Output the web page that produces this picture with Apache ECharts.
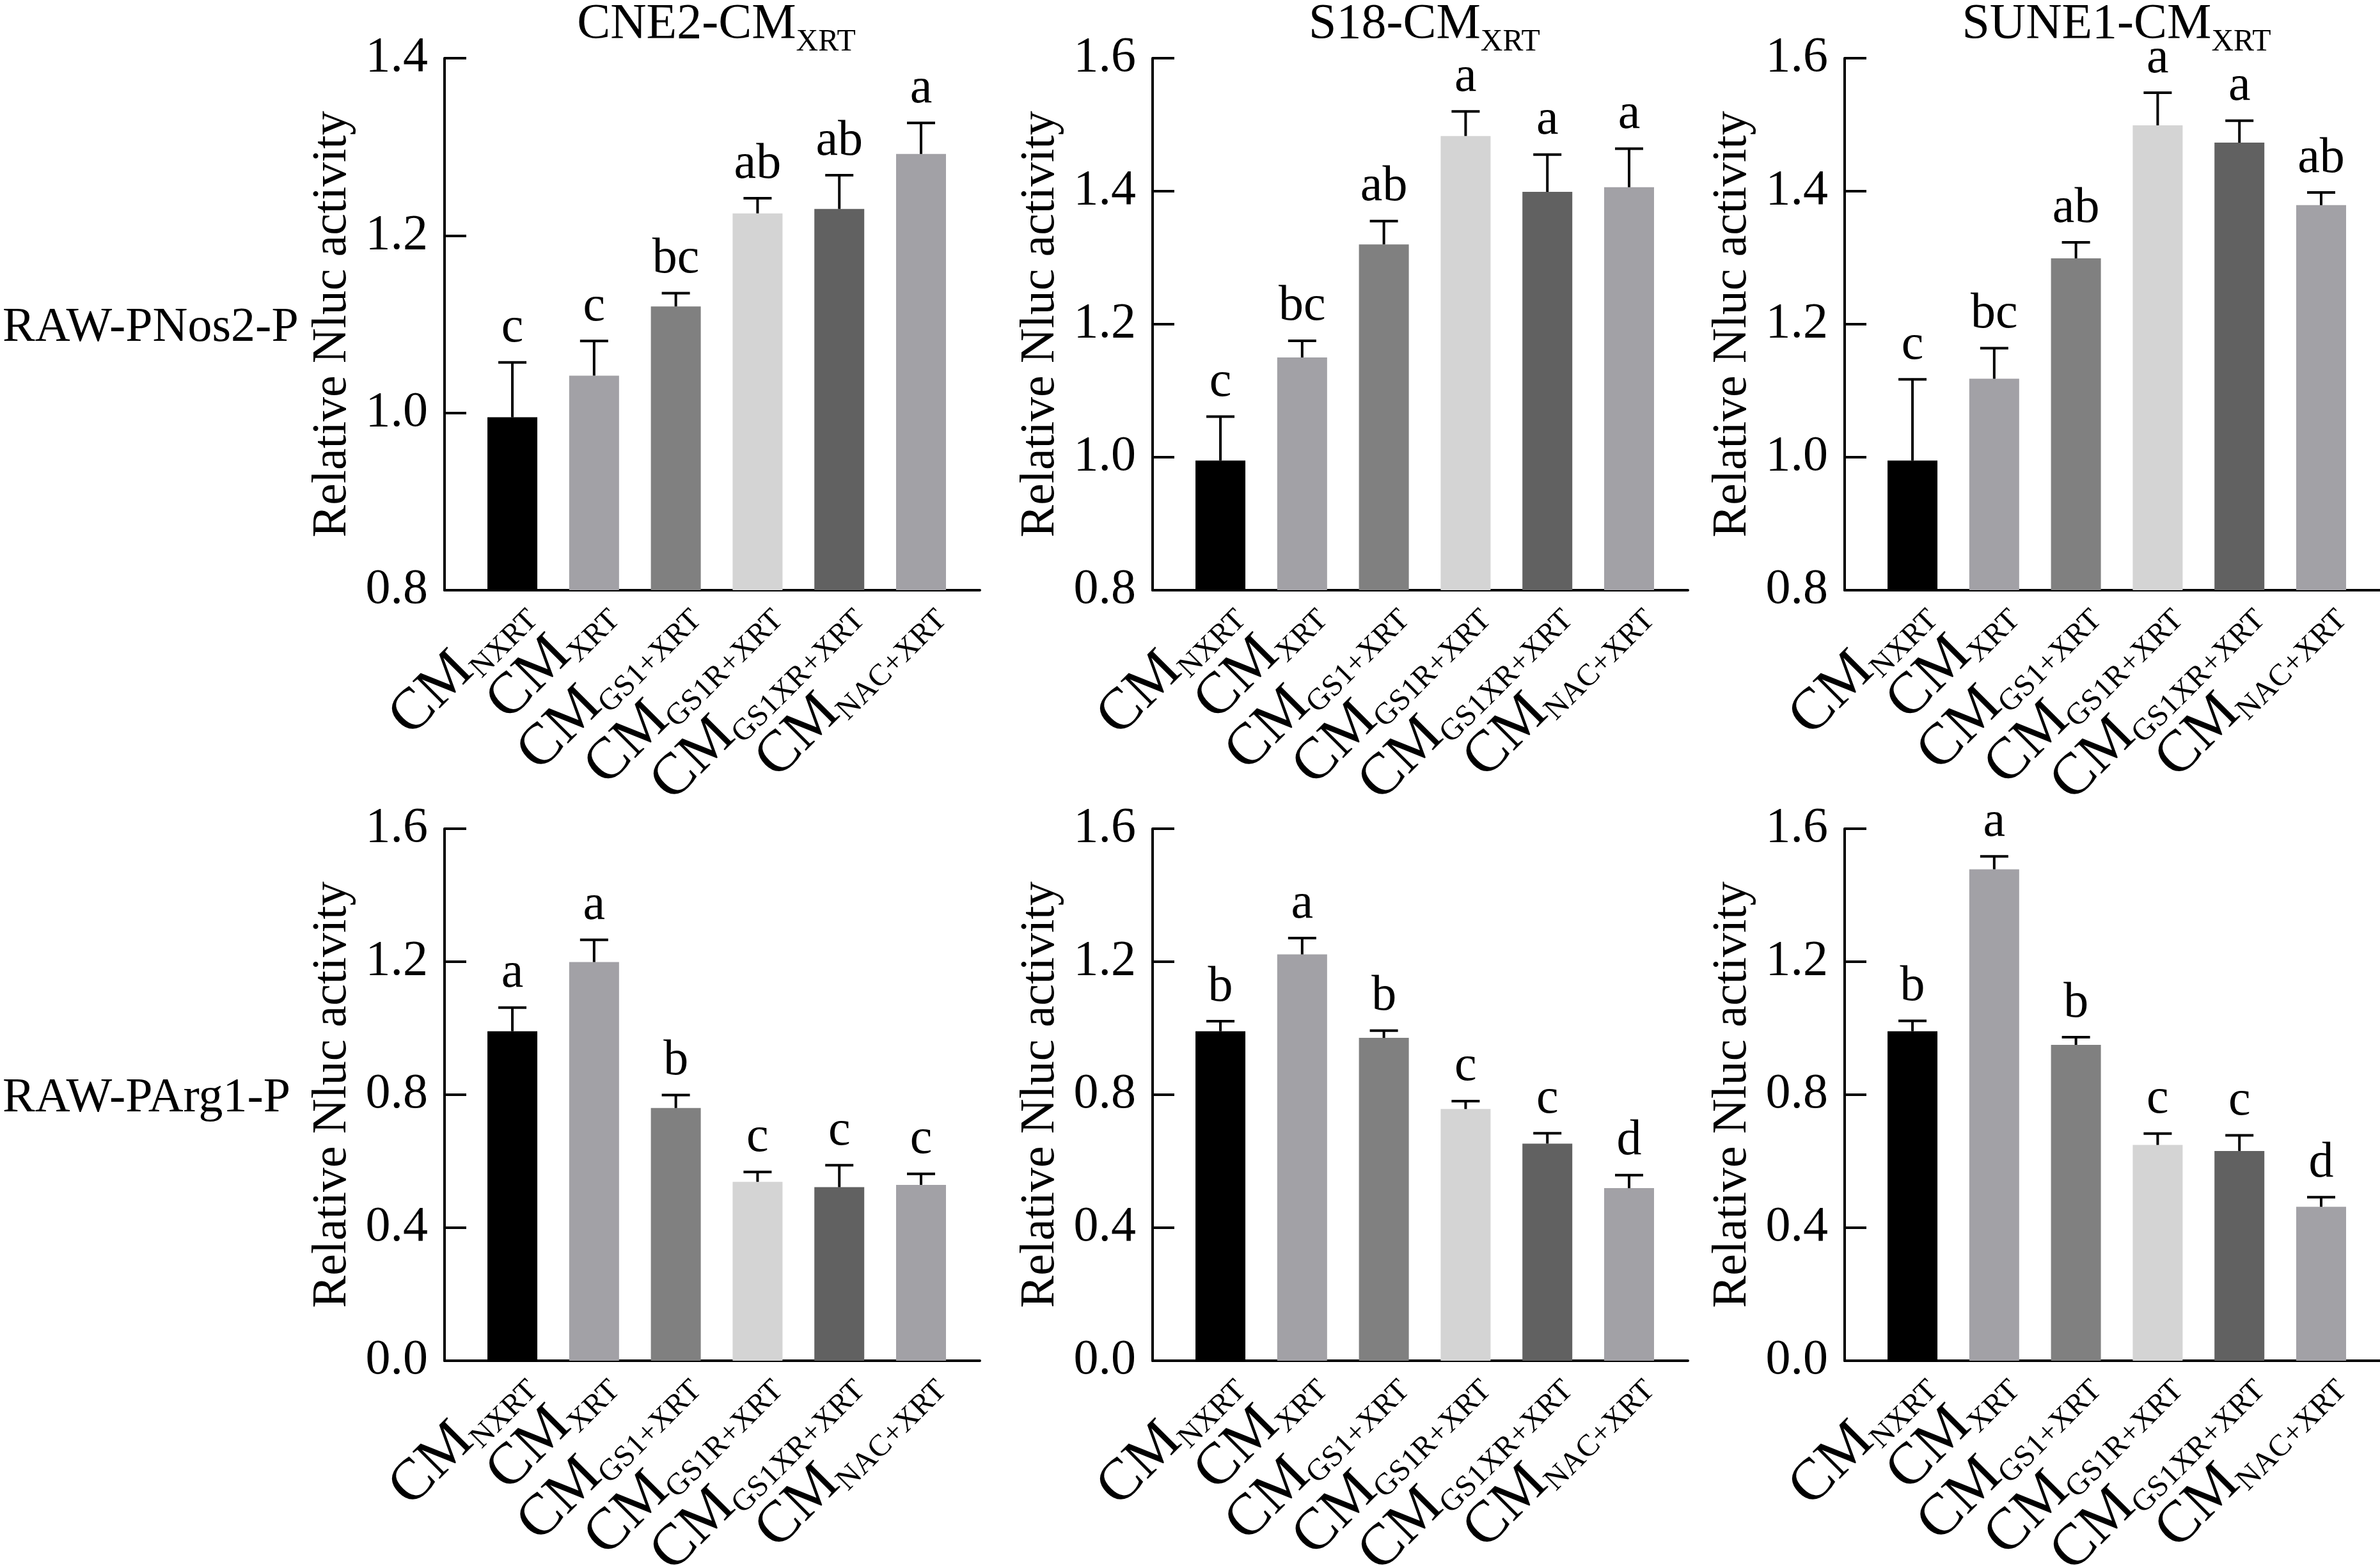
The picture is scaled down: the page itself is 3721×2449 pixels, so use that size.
<!DOCTYPE html>
<html>
<head>
<meta charset="utf-8">
<script src="https://cdn.jsdelivr.net/npm/echarts@6/dist/echarts.min.js"></script>
<style>
    html, body { margin: 0; padding: 0; background: #fff; }
    #chart { width: 3721px; height: 2449px; }
</style>
</head>
<body>
<div id="chart"></div>
<script>
// 组别（CM 的下标）
var catSubs = ['NXRT', 'XRT', 'GS1+XRT', 'GS1R+XRT', 'GS1XR+XRT', 'NAC+XRT'];
var barColors = ['#000000', '#a2a1a6', '#808080', '#d4d4d4', '#616161', '#a2a1a6'];

// 列标题（前缀 + 下标）
var colTitles = ['CNE2-CM', 'S18-CM', 'SUNE1-CM'];
var colTitleSub = 'XRT';
var rowNames = ['RAW-PNos2-P', 'RAW-PArg1-P'];

// 纵轴刻度
var yMinTop = [0.8, 0.8, 0.8];
var yMaxTop = [1.4, 1.6, 1.6];
var yStepTop = 0.2;
var yMinBottom = 0;
var yMaxBottom = 1.6;
var yStepBottom = 0.4;

// RAW-PNos2-P
var cne2Nos2Mean = [0.995, 1.042, 1.120, 1.225, 1.230, 1.292];
var cne2Nos2Err  = [0.062, 0.039, 0.015, 0.017, 0.038, 0.035];
var cne2Nos2Sig  = ['c', 'c', 'bc', 'ab', 'ab', 'a'];
var s18Nos2Mean  = [0.995, 1.150, 1.320, 1.483, 1.399, 1.406];
var s18Nos2Err   = [0.066, 0.025, 0.035, 0.037, 0.056, 0.058];
var s18Nos2Sig   = ['c', 'bc', 'ab', 'a', 'a', 'a'];
var sune1Nos2Mean = [0.995, 1.118, 1.299, 1.499, 1.473, 1.379];
var sune1Nos2Err  = [0.122, 0.046, 0.024, 0.049, 0.033, 0.019];
var sune1Nos2Sig  = ['c', 'bc', 'ab', 'a', 'a', 'ab'];

// RAW-PArg1-P
var cne2Arg1Mean = [0.991, 1.199, 0.760, 0.538, 0.522, 0.529];
var cne2Arg1Err  = [0.071, 0.067, 0.039, 0.030, 0.066, 0.033];
var cne2Arg1Sig  = ['a', 'a', 'b', 'c', 'c', 'c'];
var s18Arg1Mean  = [0.991, 1.222, 0.971, 0.757, 0.653, 0.519];
var s18Arg1Err   = [0.030, 0.049, 0.022, 0.024, 0.031, 0.039];
var s18Arg1Sig   = ['b', 'a', 'b', 'c', 'c', 'd'];
var sune1Arg1Mean = [0.991, 1.478, 0.950, 0.649, 0.631, 0.463];
var sune1Arg1Err  = [0.031, 0.039, 0.023, 0.034, 0.047, 0.029];
var sune1Arg1Sig  = ['b', 'a', 'b', 'c', 'c', 'd'];

var panels = [
    {row: 0, col: 0, mean: cne2Nos2Mean, err: cne2Nos2Err, sig: cne2Nos2Sig},
    {row: 0, col: 1, mean: s18Nos2Mean, err: s18Nos2Err, sig: s18Nos2Sig},
    {row: 0, col: 2, mean: sune1Nos2Mean, err: sune1Nos2Err, sig: sune1Nos2Sig},
    {row: 1, col: 0, mean: cne2Arg1Mean, err: cne2Arg1Err, sig: cne2Arg1Sig},
    {row: 1, col: 1, mean: s18Arg1Mean, err: s18Arg1Err, sig: s18Arg1Sig},
    {row: 1, col: 2, mean: sune1Arg1Mean, err: sune1Arg1Err, sig: sune1Arg1Sig}
];

var FONT = "'Liberation Serif', 'Times New Roman', serif";
var colLeft = [695, 1802, 2884];
var rowTop = [91, 1296];
var plotW = 837, plotH = 832;
var LABEL_MAIN = 92, LABEL_SUB = 48;

var chart = echarts.init(document.getElementById('chart'));

var titleRich = {
    m: {fontSize: 78, fontFamily: FONT, fill: '#000', color: '#000', lineHeight: 78, verticalAlign: 'top'},
    s: {fontSize: 48, fontFamily: FONT, fill: '#000', color: '#000', lineHeight: 132, verticalAlign: 'middle'}
};

// 量文字宽度，用来把 CM 和下标接在一起
var measureCtx = document.createElement('canvas').getContext('2d');
function textWidth(str, size) {
    measureCtx.font = size + 'px ' + FONT;
    return measureCtx.measureText(str).width;
}

// 误差线 + 显著性字母
function errRender(sig) {
    return function (params, api) {
        var x = api.value(0);
        var lo = api.coord([x, api.value(1)]);
        var hi = api.coord([x, api.value(2)]);
        return {
            type: 'group',
            children: [
                {type: 'line', shape: {x1: lo[0], y1: lo[1], x2: hi[0], y2: hi[1]}, style: {stroke: '#000', lineWidth: 4}},
                {type: 'line', shape: {x1: hi[0] - 22, y1: hi[1], x2: hi[0] + 22, y2: hi[1]}, style: {stroke: '#000', lineWidth: 4}},
                {type: 'text', x: hi[0], y: hi[1] - 14, style: {
                    text: sig[params.dataIndex], fontSize: 78, fontFamily: FONT, fill: '#000',
                    align: 'center', verticalAlign: 'bottom'
                }}
            ]
        };
    };
}

// 斜排的分类标签（CM + 下标），右端对齐到柱子
function labelRender(params, api) {
    var pt = api.coord([api.value(0), api.value(1)]);
    var sub = catSubs[params.dataIndex];
    var subW = textWidth(sub, LABEL_SUB);
    var mainW = textWidth('CM', LABEL_MAIN);
    return {
        type: 'group', x: pt[0] + 48, y: pt[1] + 54, rotation: Math.PI / 4,
        children: [
            {type: 'text', x: -(subW + mainW), y: 0, style: {
                text: 'CM', fontSize: LABEL_MAIN, fontFamily: FONT, fill: '#000', align: 'left', verticalAlign: 'bottom'
            }},
            {type: 'text', x: -subW, y: 3, style: {
                text: sub, fontSize: LABEL_SUB, fontFamily: FONT, fill: '#000', align: 'left', verticalAlign: 'bottom'
            }}
        ]
    };
}

var grids = [], xAxes = [], yAxes = [], series = [], graphics = [];

panels.forEach(function (p, k) {
    var top = p.row === 0;
    var yMin = top ? yMinTop[p.col] : yMinBottom;
    grids.push({left: colLeft[p.col], top: rowTop[p.row], width: plotW, height: plotH, containLabel: false});
    xAxes.push({
        type: 'value', gridIndex: k, min: -0.83, max: 5.72,
        splitLine: {show: false},
        axisTick: {show: false},
        axisLabel: {show: false},
        axisLine: {show: true, onZero: false, lineStyle: {color: '#000', width: 4}}
    });
    yAxes.push({
        type: 'value', gridIndex: k,
        min: yMin,
        max: top ? yMaxTop[p.col] : yMaxBottom,
        interval: top ? yStepTop : yStepBottom,
        name: 'Relative Nluc activity', nameLocation: 'middle', nameGap: 137,
        nameTextStyle: {fontSize: 76, fontFamily: FONT, color: '#000'},
        splitLine: {show: false},
        axisLine: {show: true, onZero: false, lineStyle: {color: '#000', width: 4}},
        axisTick: {show: true, inside: true, length: 34, lineStyle: {color: '#000', width: 4}},
        axisLabel: {
            margin: 26, fontSize: 78, fontFamily: FONT, color: '#000',
            formatter: function (v) { return v.toFixed(1); }
        }
    });
    series.push({
        type: 'bar', xAxisIndex: k, yAxisIndex: k, barWidth: 78,
        data: p.mean.map(function (m, i) {
            return {value: [i, m], itemStyle: {color: barColors[i]}};
        })
    });
    series.push({
        type: 'custom', xAxisIndex: k, yAxisIndex: k, z: 5,
        renderItem: errRender(p.sig),
        encode: {x: 0, y: [1, 2]},
        data: p.mean.map(function (m, i) { return [i, m, m + p.err[i]]; })
    });
    series.push({
        type: 'custom', xAxisIndex: k, yAxisIndex: k, z: 5, clip: false,
        renderItem: labelRender,
        encode: {x: 0, y: 1},
        data: catSubs.map(function (s, i) { return [i, yMin]; })
    });
});

colTitles.forEach(function (t, c) {
    graphics.push({
        type: 'text', x: colLeft[c] + 425, y: 0,
        style: {text: '{m|' + t + '}{s|' + colTitleSub + '}', rich: titleRich, fill: '#000', align: 'center', verticalAlign: 'top'}
    });
});
rowNames.forEach(function (t, r) {
    graphics.push({
        type: 'text', x: 4, y: rowTop[r] + plotH / 2 + 6,
        style: {text: t, fontSize: 76, fontFamily: FONT, fill: '#000', align: 'left', verticalAlign: 'middle'}
    });
});

chart.setOption({
    animation: false,
    backgroundColor: '#fff',
    grid: grids,
    xAxis: xAxes,
    yAxis: yAxes,
    series: series,
    graphic: graphics
});
</script>
</body>
</html>
